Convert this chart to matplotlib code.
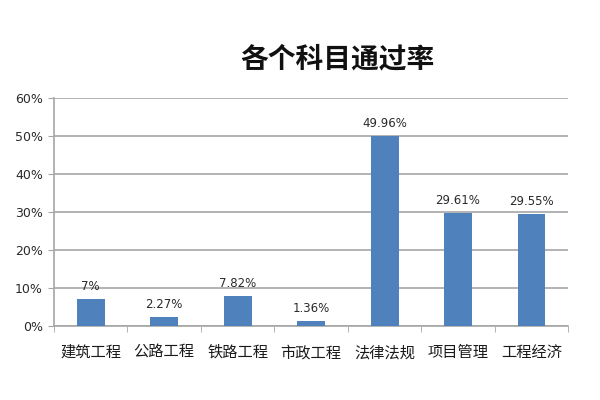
import matplotlib.pyplot as plt
from matplotlib.ticker import PercentFormatter
import numpy as np

plt.rcParams['font.family'] = ['Noto Sans CJK SC', 'DejaVu Sans']

categories = ['建筑工程', '公路工程', '铁路工程', '市政工程', '法律法规', '项目管理', '工程经济']
pass_rates = [7, 2.27, 7.82, 1.36, 49.96, 29.61, 29.55]
value_labels = ['7%', '2.27%', '7.82%', '1.36%', '49.96%', '29.61%', '29.55%']
y_ticks = [0, 10, 20, 30, 40, 50, 60]

BAR_COLOR = '#4f81bd'
GRID_COLOR = '#a6a6a6'

fig = plt.figure(figsize=(6, 4), dpi=100)
ax = fig.add_axes([0.09, 0.185, 0.857, 0.57])

x = np.arange(len(categories))
ax.bar(x, pass_rates, width=0.38, color=BAR_COLOR, zorder=3)

for xi, v, lab in zip(x, pass_rates, value_labels):
    ax.text(xi, v + 1.6, lab, ha='center', va='bottom', fontsize=8.5,
            family='DejaVu Sans', color='#2a2a2a')

ax.set_xlim(-0.5, len(categories) - 0.5)
ax.set_ylim(0, 60)
ax.set_yticks(y_ticks)
ax.yaxis.set_major_formatter(PercentFormatter(decimals=0))
ax.yaxis.grid(True, color=GRID_COLOR, lw=1.2, zorder=0)

ax.set_xticks(x)
ax.set_xticklabels(categories, fontsize=11, weight='medium', color='#1a1a1a')
ax.set_xticks(np.arange(-0.5, len(categories)), minor=True)
ax.tick_params(axis='x', which='major', length=0, pad=13)
ax.tick_params(axis='x', which='minor', length=4, color=GRID_COLOR, direction='out')
ax.tick_params(axis='y', length=4, color=GRID_COLOR, labelsize=9, pad=4,
               labelcolor='#2a2a2a')
for t in ax.get_yticklabels():
    t.set_family('DejaVu Sans')

for s in ['top', 'right']:
    ax.spines[s].set_visible(False)
ax.spines['left'].set_color(GRID_COLOR)
ax.spines['bottom'].set_color(GRID_COLOR)
ax.spines['left'].set_linewidth(1.2)
ax.spines['bottom'].set_linewidth(1.2)

fig.text(0.563, 0.852, '各个科目通过率', ha='center', va='center', fontsize=20,
         weight='bold', color='#111111')

fig.savefig('out.png', dpi=100, facecolor='white')
